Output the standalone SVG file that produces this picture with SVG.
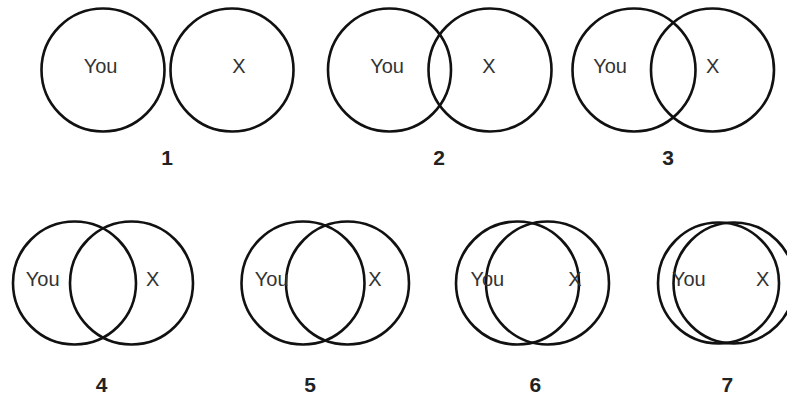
<svg xmlns="http://www.w3.org/2000/svg" width="787" height="399" viewBox="0 0 787 399">
<style>
.c{fill:none;stroke:#111;stroke-width:2.6}
.t{font-family:"Liberation Sans",Arial,sans-serif;font-size:20px;fill:#333;text-anchor:middle}
.n{font-family:"Liberation Sans",Arial,sans-serif;font-size:21px;font-weight:bold;fill:#222;text-anchor:middle}
</style>
<rect width="787" height="399" fill="#fff"/>
<g id="pair1">
<circle class="c" cx="103" cy="70" r="61.5"/><circle class="c" cx="232" cy="70" r="61.5"/>
<text class="t" x="100.5" y="73">You</text><text class="t" x="239" y="73">X</text>
<text class="n" x="167" y="165">1</text>
</g>
<g id="pair2">
<circle class="c" cx="389.5" cy="70" r="61.5"/><circle class="c" cx="490" cy="70" r="61.5"/>
<text class="t" x="387" y="73">You</text><text class="t" x="489" y="73">X</text>
<text class="n" x="439" y="165">2</text>
</g>
<g id="pair3">
<circle class="c" cx="634" cy="70" r="61.5"/><circle class="c" cx="712.5" cy="70" r="61.5"/>
<text class="t" x="610" y="73">You</text><text class="t" x="712.7" y="73">X</text>
<text class="n" x="668" y="165">3</text>
</g>
<g id="pair4">
<circle class="c" cx="74.5" cy="283" r="61.5"/><circle class="c" cx="131.5" cy="283" r="61.5"/>
<text class="t" x="42.7" y="286">You</text><text class="t" x="152.7" y="286">X</text>
<text class="n" x="101.7" y="391.5">4</text>
</g>
<g id="pair5">
<circle class="c" cx="303" cy="283" r="61.5"/><circle class="c" cx="347.5" cy="283" r="61.5"/>
<text class="t" x="271.7" y="286">You</text><text class="t" x="375" y="286">X</text>
<text class="n" x="310" y="391.5">5</text>
</g>
<g id="pair6">
<circle class="c" cx="517.5" cy="283" r="61.5"/><circle class="c" cx="547.5" cy="283" r="61.5"/>
<text class="t" x="487.3" y="286">You</text><text class="t" x="575" y="286">X</text>
<text class="n" x="535.3" y="391.5">6</text>
</g>
<g id="pair7">
<circle class="c" cx="718.5" cy="283" r="60.5"/><circle class="c" cx="734" cy="283" r="60.5"/>
<text class="t" x="688.8" y="286">You</text><text class="t" x="762.7" y="286">X</text>
<text class="n" x="727.3" y="391.5">7</text>
</g>
<g id="connectors"/>
</svg>
